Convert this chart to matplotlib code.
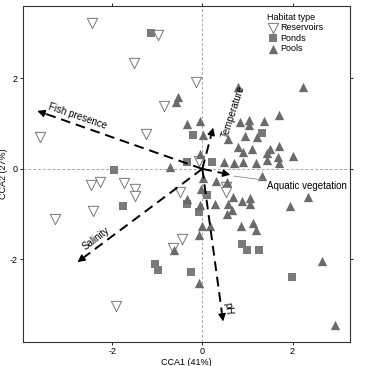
import matplotlib
matplotlib.use('Agg')
import matplotlib.pyplot as plt
import numpy as np

# CCA site scores per habitat type
reservoirs_x = [-2.44, -0.99, -1.52, -0.86, -3.60, -1.24, -0.15, -0.07, -2.48, -2.26,
                -1.73, -1.50, -1.50, -2.42, -3.27, -0.49, -0.46, -0.65, -1.91, 0.53, 0.53]
reservoirs_y = [3.23, 2.96, 2.33, 1.39, 0.71, 0.76, 1.91, 0.18, -0.35, -0.30,
                -0.32, -0.45, -0.60, -0.92, -1.11, -0.50, -1.55, -1.75, -3.02, -0.40, -0.50]

ponds_x = [-1.13, -0.33, -1.95, -0.21, 0.21, 1.33, 0.10, -0.33, -0.08, -1.75,
           0.89, 0.98, 1.25, -1.06, -0.99, -0.25, 1.99]
ponds_y = [2.99, 0.16, -0.02, 0.75, 0.16, 0.80, -0.57, -0.77, -0.96, -0.82,
           -1.66, -1.79, -1.79, -2.10, -2.23, -2.27, -2.38]

pools_x = [-0.54, -0.58, -0.33, -0.71, 0.79, 2.24, 1.71, -0.05, 0.84, 1.04,
           1.36, 1.04, 0.01, 0.58, 0.95, 1.22, 0.79, 1.11, 1.50, 1.69,
           0.91, 1.43, -0.05, 0.48, 0.71, 0.91, 1.19, 1.44, 1.67, 2.01,
           1.69, 1.32, 0.01, 0.31, -0.03, -0.34, -0.06, 0.28, 0.56, 0.67,
           0.88, 1.06, 1.06, 0.66, 0.55, 0.00, 0.16, -0.07, 0.86, 1.12,
           1.19, 1.95, 2.35, 2.65, -0.62, -0.07, 2.95, 0.55]
pools_y = [1.58, 1.47, 0.99, 0.05, 1.80, 1.80, 1.19, 1.06, 1.04, 1.07,
           1.05, 0.96, 0.75, 0.65, 0.72, 0.70, 0.49, 0.44, 0.44, 0.51,
           0.37, 0.36, 0.32, 0.15, 0.14, 0.16, 0.14, 0.19, 0.27, 0.28,
           0.14, -0.15, -0.20, -0.26, -0.45, -0.66, -0.79, -0.77, -0.78, -0.62,
           -0.72, -0.65, -0.78, -0.91, -1.00, -1.26, -1.26, -1.47, -1.27, -1.20,
           -1.35, -0.83, -0.62, -2.03, -1.80, -2.52, -3.45, -0.30]

# environmental vectors
env_names = ['Fish presence', 'Temperature', 'Aquatic vegetation', 'Salinity', 'pH']
env_x = [-3.66, 0.24, 0.62, -2.77, 0.46]
env_y = [1.28, 0.91, -0.13, -2.06, -3.37]

plt.rcParams['font.family'] = ['Liberation Sans', 'DejaVu Sans']
plt.rcParams['font.size'] = 7
plt.rcParams['axes.unicode_minus'] = False

fig = plt.figure(figsize=(3.75, 3.66), dpi=100)
ax = fig.add_axes([0.061, 0.066, 0.873, 0.918])

ax.axhline(0, color='#aaaaaa', lw=0.7, ls=(0, (3, 2)), zorder=0)
ax.axvline(0, color='#aaaaaa', lw=0.7, ls=(0, (3, 2)), zorder=0)

ax.scatter(reservoirs_x, reservoirs_y, marker='v', s=55, facecolor='white',
           edgecolor='#777777', linewidth=0.7, label='Reservoirs', zorder=2)
ax.scatter(ponds_x, ponds_y, marker='s', s=28, color='#7a7a7a',
           linewidth=0, label='Ponds', zorder=2)
ax.scatter(pools_x, pools_y, marker='^', s=45, color='#6a6a6a',
           linewidth=0, label='Pools', zorder=2)

# dashed arrows with solid heads
for name, ex, ey in zip(env_names, env_x, env_y):
    length = np.hypot(ex, ey)
    fx, fy = ex * (1 - 0.2 / length), ey * (1 - 0.2 / length)
    ax.plot([0, fx], [0, fy], color='black', lw=1.4, ls=(0, (5, 3)), zorder=3)
    ax.annotate('', xy=(ex, ey), xytext=(fx, fy),
                arrowprops=dict(arrowstyle='-|>', color='black', lw=1,
                                mutation_scale=11, shrinkA=0, shrinkB=0),
                zorder=4)

ax.text(-2.77, 1.17, 'Fish presence', rotation=-19, ha='center', va='center')
ax.text(0.68, 1.26, 'Temperature', rotation=72, ha='center', va='center')
ax.text(-2.36, -1.55, 'Salinity', rotation=37, ha='center', va='center')
ax.text(0.58, -3.08, 'pH', rotation=-83, ha='center', va='center')
ax.annotate('Aquatic vegetation', xy=(0.7, -0.16), xytext=(1.43, -0.37),
            ha='left', va='center',
            arrowprops=dict(arrowstyle='-', color='#888888', lw=0.6,
                            shrinkA=0, shrinkB=0))

ax.set_xlim(-3.98, 3.28)
ax.set_ylim(-3.82, 3.6)
ax.set_xticks([-2, 0, 2])
ax.set_yticks([-2, 0, 2])
ax.tick_params(top=True, right=True, direction='out', length=2.5, width=0.6,
               labelsize=6.5, pad=1.5)
for s in ax.spines.values():
    s.set_linewidth(0.8)
    s.set_color('#333333')

ax.set_xlabel('CCA1 (41%)', labelpad=1.5, fontsize=6.5)
ax.set_ylabel('CCA2 (27%)', fontsize=6.5)
ax.yaxis.set_label_coords(-0.045, 0.5)

leg = ax.legend(title='Habitat type', loc='upper left', bbox_to_anchor=(0.735, 0.99),
                frameon=False, fontsize=6.5, title_fontsize=6.5, handletextpad=0.3,
                labelspacing=0.15, borderaxespad=0, handlelength=1.2)
leg._legend_box.align = 'left'

fig.savefig('out.png', dpi=100)
